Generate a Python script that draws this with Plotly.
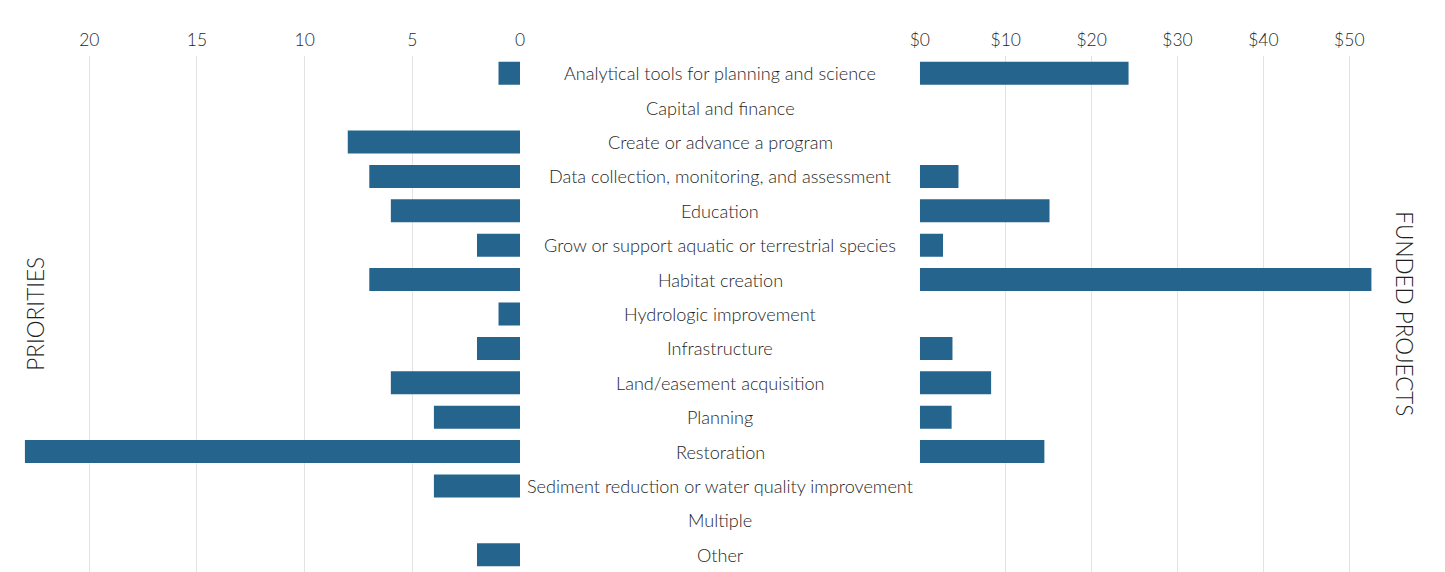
import plotly.graph_objects as go

categories = [
    "Analytical tools for planning and science",
    "Capital and finance",
    "Create or advance a program",
    "Data collection, monitoring, and assessment",
    "Education",
    "Grow or support aquatic or terrestrial species",
    "Habitat creation",
    "Hydrologic improvement",
    "Infrastructure",
    "Land/easement acquisition",
    "Planning",
    "Restoration",
    "Sediment reduction or water quality improvement",
    "Multiple",
    "Other",
]
priorities = [1, None, 8, 7, 6, 2, 7, 1, 2, 6, 4, 23, 4, None, 2]
funded = [24.3, None, None, 4.5, 15.1, 2.7, 52.6, None, 3.8, 8.3, 3.7, 14.5, None, None, None]

left_ticks = [0, 5, 10, 15, 20]
right_ticks = [0, 10, 20, 30, 40, 50]
right_labels = ["$0", "$10", "$20", "$30", "$40", "$50"]

W, H = 1445, 572
BAR = "#25648d"
TXT = "#1f1f1f"
GRID = "#e3e3e3"
FONT = "Lato, 'Open Sans', sans-serif"


def px_x(v):
    # page pixel -> paper fraction (page offset/scale seen in render)
    return (v - 18.3) / 1429


fig = go.Figure()
fig.add_trace(go.Bar(y=categories, x=priorities, orientation="h", marker=dict(color=BAR, line_width=0),
                     width=0.67, xaxis="x", yaxis="y", showlegend=False))
fig.add_trace(go.Bar(y=categories, x=funded, orientation="h", marker=dict(color=BAR, line_width=0),
                     width=0.67, xaxis="x2", yaxis="y", showlegend=False))

# category labels in the middle gutter
for c in categories:
    fig.add_annotation(x=px_x(720), xref="paper", y=c, yref="y", text=c, showarrow=False,
                       xanchor="center", font=dict(size=18.1, color=TXT, family=FONT, weight=300))

fig.add_annotation(x=px_x(35), xref="paper", y=0.5, yref="paper", text="PRIORITIES", textangle=-90,
                   showarrow=False, xanchor="center", yanchor="middle",
                   font=dict(size=22.5, color=TXT, family=FONT, weight=300))
fig.add_annotation(x=px_x(1404), xref="paper", y=0.5, yref="paper", text="FUNDED PROJECTS", textangle=90,
                   showarrow=False, xanchor="center", yanchor="middle",
                   font=dict(size=22.5, color=TXT, family=FONT, weight=300))

axis_common = dict(side="top", showgrid=True, gridcolor=GRID, gridwidth=1, zeroline=False,
                   showline=False, ticks="", ticklabelstandoff=6,
                   tickfont=dict(size=17.5, color=TXT, family=FONT, weight=300), fixedrange=True)

fig.update_layout(
    width=W, height=H,
    margin=dict(l=0, r=0, t=48, b=8),
    plot_bgcolor="white", paper_bgcolor="white",
    xaxis=dict(domain=[px_x(25), px_x(520)], range=[23, 0], tickvals=left_ticks, anchor="y", **axis_common),
    xaxis2=dict(domain=[px_x(919.5), px_x(1371)], range=[0, 52.6], tickvals=right_ticks,
                ticktext=right_labels, anchor="y", **axis_common),
    yaxis=dict(autorange="reversed", showticklabels=False, showgrid=False, zeroline=False, showline=False,
               categoryorder="array", categoryarray=categories, fixedrange=True),
    font=dict(family=FONT, color=TXT),
)

fig.write_html("out.html")
